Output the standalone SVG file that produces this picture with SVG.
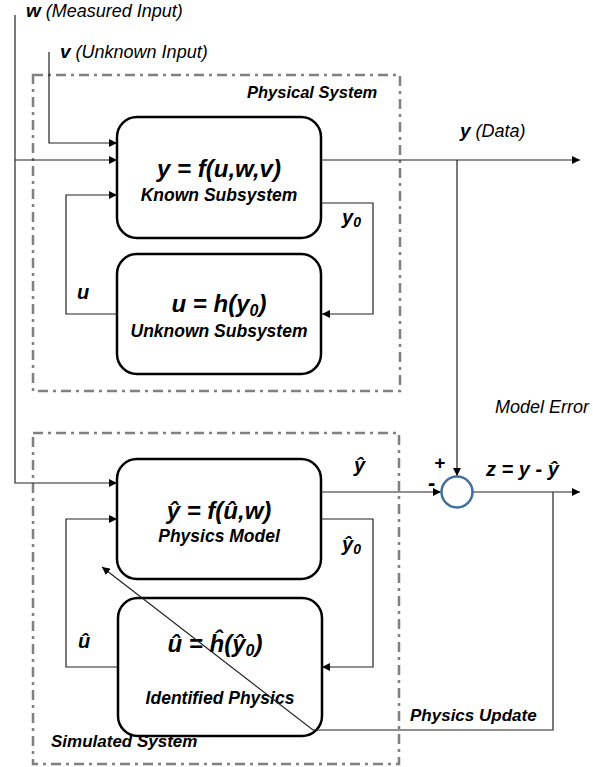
<svg xmlns="http://www.w3.org/2000/svg" width="593" height="767" viewBox="0 0 593 767">
<defs>
<marker id="ah" viewBox="0 0 10 10" refX="10" refY="5" markerWidth="8" markerHeight="8" markerUnits="userSpaceOnUse" orient="auto">
<path d="M0,0 L10,5 L0,10 z" fill="#000"/>
</marker>
<style>
.box{fill:#fff;stroke:#000;stroke-width:2.5}
.grp{fill:none;stroke:#808080;stroke-width:2.5;stroke-dasharray:10 5 3 5}
.c{fill:none;stroke:#222;stroke-width:1.2}
.a{marker-end:url(#ah)}
text{font-family:"Liberation Sans",Arial,sans-serif;fill:#000}
.eq{font-size:24px;font-weight:bold;font-style:italic;text-anchor:middle}
.nm{font-size:17.5px;font-weight:bold;font-style:italic;text-anchor:middle}
.lb{font-size:17px;font-weight:bold;font-style:italic}
.big{font-size:20px;font-weight:bold;font-style:italic}
.it{font-size:18px;font-style:italic}
.sub{font-size:14px}
</style>
</defs>
<g id="physical-system">
<rect class="grp" x="33" y="75" width="367" height="316"/>
<text class="lb" x="247" y="98" style="font-size:16.5px">Physical System</text>
</g>
<g id="simulated-system">
<rect class="grp" x="33" y="433" width="366" height="331"/>
<text class="lb" x="51" y="747">Simulated System</text>
</g>
<g id="connectors">
<polyline class="c a" points="15,15 15,483 117,483"/>
<polyline class="c a" points="15,160 117,160"/>
<polyline class="c a" points="49,52 49,143 117,143"/>
<polyline class="c a" points="117,314 66,314 66,195 117,195"/>
<polyline class="c a" points="321,203 373,203 373,314 322,314"/>
<polyline class="c a" points="321,160 580,160"/>
<polyline class="c a" points="457,160 457,476"/>
<polyline class="c a" points="321,492 441,492"/>
<polyline class="c a" points="473,492 580,492"/>
<polyline class="c a" points="321,519 373,519 373,667 322,667"/>
<polyline class="c a" points="118,667 66,667 66,519 117,519"/>
</g>
<g id="known-subsystem">
<rect class="box" x="117" y="117" width="204" height="121" rx="20"/>
<text class="eq" x="219" y="177">y = f(u,w,v)</text>
<text class="nm" x="219" y="201">Known Subsystem</text>
</g>
<g id="unknown-subsystem">
<rect class="box" x="117" y="254" width="204" height="120" rx="20"/>
<text class="eq" x="219" y="312">u = h(y<tspan style="font-size:16px" dy="4">0</tspan><tspan dy="-4">)</tspan></text>
<text class="nm" x="219" y="337">Unknown Subsystem</text>
</g>
<g id="physics-model">
<rect class="box" x="117" y="459" width="204" height="120" rx="20"/>
<text class="eq" x="219" y="519">ŷ = f(û,w)</text>
<text class="nm" x="219" y="542">Physics Model</text>
</g>
<g id="identified-physics">
<rect class="box" x="118" y="598" width="204" height="138" rx="20"/>
<text class="eq" x="215" y="652">û = ĥ(ŷ<tspan style="font-size:16px" dy="4">0</tspan><tspan dy="-4">)</tspan></text>
<text class="nm" x="220" y="704">Identified Physics</text>
</g>
<g id="update-connector">
<polyline class="c a" points="553,492 553,730 313,730 102,567"/>
</g>
<g id="sum-junction">
<circle cx="457" cy="492" r="15.5" fill="#fff" stroke="#41719C" stroke-width="2.5"/>
<text class="big" x="434" y="469" style="font-size:19px">+</text>
<text class="big" x="428" y="490" style="font-size:22px">-</text>
</g>
<g id="labels">
<text x="26" y="17"><tspan class="big" style="font-size:19px">w</tspan><tspan class="it"> (Measured Input)</tspan></text>
<text x="60" y="58"><tspan class="big" style="font-size:19px">v</tspan><tspan class="it"> (Unknown Input)</tspan></text>
<text x="460" y="137"><tspan class="big" style="font-size:19px">y</tspan><tspan class="it"> (Data)</tspan></text>
<text class="big" x="342" y="224">y<tspan class="sub" dy="3">0</tspan></text>
<text class="big" x="77" y="299">u</text>
<text class="it" x="495" y="413">Model Error</text>
<text class="big" x="354" y="472">ŷ</text>
<text class="big" x="486" y="476">z = y - ŷ</text>
<text class="big" x="342" y="551">ŷ<tspan class="sub" dy="3">0</tspan></text>
<text class="big" x="78" y="648">û</text>
<text class="lb" x="410" y="721">Physics Update</text>
</g>
</svg>
